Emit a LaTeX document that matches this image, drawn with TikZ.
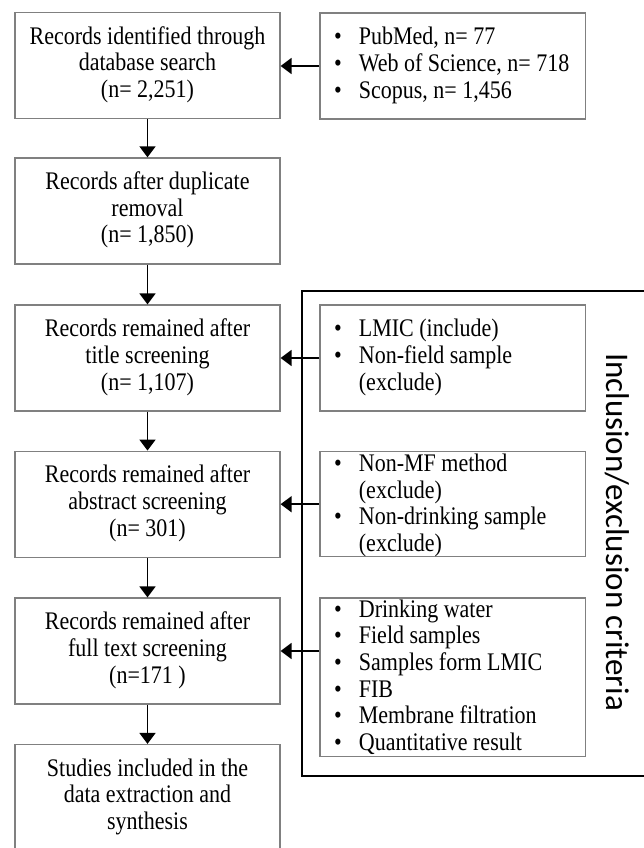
\documentclass[tikz,border=0pt]{standalone}
\usepackage{graphicx}
\usepackage{fontspec}
\setmainfont{Liberation Serif}
\newfontfamily\critfont{Carlito}
\usetikzlibrary{arrows.meta}
\definecolor{boxgray}{RGB}{128,128,128}
\newcommand{\tallbox}[1]{\scalebox{1}[1.15]{#1}}
\begin{document}
\begin{tikzpicture}[x=1pt,y=-1pt,
  stepbox/.style={draw=boxgray, fill=white, line width=1.2pt, minimum width=265pt, minimum height=106pt, inner sep=0pt, align=center, font=\fontsize{22}{23.2}\selectfont},
  listbox/.style={draw=boxgray, fill=white, line width=1.2pt, minimum width=265.7pt, inner sep=0pt},
  listtext/.style={anchor=west, inner sep=0pt, font=\fontsize{22}{23.2}\selectfont},
  flow/.style={line width=1.7pt, -{Triangle[width=16pt,length=11pt]}}
]
\useasboundingbox (0,0) rectangle (643,848);
% frame
\draw[line width=2.2pt] (302,290.7) rectangle (660,775.7);
\node[rotate=-90, anchor=base, font=\critfont\fontsize{33}{36}\selectfont] (crit) at (606,532) {Inclusion/exclusion criteria};
% left column
\node[stepbox] (b1) at (147.5,65.5) {\tallbox{\begin{tabular}{@{}c@{}}Records identified through\\database search\\(n= 2,251)\end{tabular}}};
\node[stepbox] (b2) at (147.5,210.9) {\tallbox{\begin{tabular}{@{}c@{}}Records after duplicate\\removal\\(n= 1,850)\end{tabular}}};
\node[stepbox] (b3) at (147.5,358) {\tallbox{\begin{tabular}{@{}c@{}}Records remained after\\title screening\\(n= 1,107)\end{tabular}}};
\node[stepbox] (b4) at (147.5,504.2) {\tallbox{\begin{tabular}{@{}c@{}}Records remained after\\abstract screening\\(n= 301)\end{tabular}}};
\node[stepbox] (b5) at (147.5,651) {\tallbox{\begin{tabular}{@{}c@{}}Records remained after\\full text screening\\(n=171 )\end{tabular}}};
\node[stepbox] (b6) at (147.5,797.5) {\tallbox{\begin{tabular}{@{}c@{}}Studies included in the\\data extraction and\\synthesis\end{tabular}}};
% right column
\node[listbox, minimum height=106pt] (s0) at (452.85,66) {};
\node[listtext] (t0) at (334,66) {\tallbox{\begin{tabular}{@{}l@{\hspace{17pt}}l@{}}\textbullet & PubMed, n= 77\\ \textbullet & Web of Science, n= 718\\ \textbullet & Scopus, n= 1,456\end{tabular}}};
\node[listbox, minimum height=106pt] (s1) at (452.85,358) {};
\node[listtext] (t1) at (334,358) {\tallbox{\begin{tabular}{@{}l@{\hspace{17pt}}l@{}}\textbullet & LMIC (include)\\ \textbullet & Non-field sample\\ & (exclude)\end{tabular}}};
\node[listbox, minimum height=105pt] (s2) at (452.85,504.2) {};
\node[listtext] (t2) at (334,506) {\tallbox{\begin{tabular}{@{}l@{\hspace{17pt}}l@{}}\textbullet & Non-MF method\\ & (exclude)\\ \textbullet & Non-drinking sample\\ & (exclude)\end{tabular}}};
\node[listbox, minimum height=158.7pt] (s3) at (452.85,677.3) {};
\node[listtext] (t3) at (334,678.5) {\tallbox{\begin{tabular}{@{}l@{\hspace{17pt}}l@{}}\textbullet & Drinking water\\ \textbullet & Field samples\\ \textbullet & Samples form LMIC\\ \textbullet & FIB\\ \textbullet & Membrane filtration\\ \textbullet & Quantitative result\end{tabular}}};
% connectors
\draw[flow] (b1) -- (b2);
\draw[flow] (b2) -- (b3);
\draw[flow] (b3) -- (b4);
\draw[flow] (b4) -- (b5);
\draw[flow] (b5) -- (b6);
\draw[flow] (s0.west) -- (s0.west -| b1.east);
\draw[flow] (s1.west) -- (s1.west -| b3.east);
\draw[flow] (s2.west) -- (s2.west -| b4.east);
\draw[flow] (s3.west |- b5.east) -- (b5.east);
\end{tikzpicture}
\end{document}
